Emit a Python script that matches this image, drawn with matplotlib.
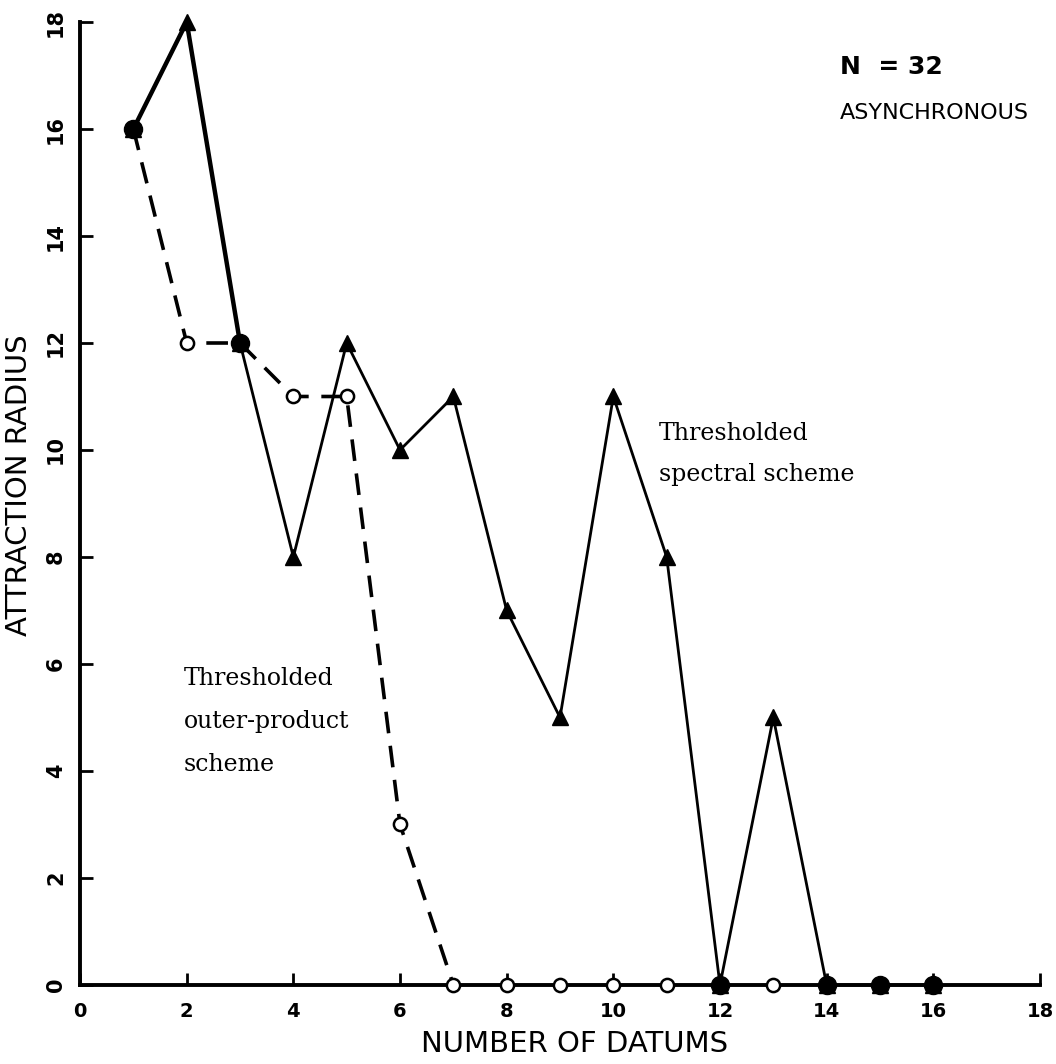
import matplotlib
matplotlib.use("Agg")
import matplotlib.pyplot as plt

# Number of stored datums
datums = [1, 2, 3, 4, 5, 6, 7, 8, 9, 10, 11, 12, 13, 14, 15, 16]
# Attraction radius, thresholded spectral scheme
spectral = [16, 18, 12, 8, 12, 10, 11, 7, 5, 11, 8, 0, 5, 0, 0, 0]
# Attraction radius, thresholded outer-product scheme
outer_product = [16, 12, 12, 11, 11, 3, 0, 0, 0, 0, 0, 0, 0, 0, 0, 0]

x_ticks = [0, 2, 4, 6, 8, 10, 12, 14, 16, 18]
y_ticks = [0, 2, 4, 6, 8, 10, 12, 14, 16, 18]

fig = plt.figure(figsize=(10.56, 10.64), dpi=100)
ax = fig.add_axes([0.0758, 0.0743, 0.909, 0.905])

# Outer-product scheme: dashed line with open circles
ax.plot(datums[:7], outer_product[:7], color="black", lw=2.6,
        dashes=(6, 3.5), zorder=2, clip_on=False)
ax.plot(datums, outer_product, linestyle="none", marker="o", ms=9.5,
        mfc="white", mec="black", mew=1.8, zorder=3, clip_on=False)

# Spectral scheme: solid line with filled triangles
ax.plot(datums[:3], spectral[:3], color="black", lw=3.2, zorder=4,
        clip_on=False)
ax.plot(datums[2:], spectral[2:], color="black", lw=2.0, zorder=4,
        clip_on=False)
ax.plot(datums, spectral, linestyle="none", marker="^", ms=11,
        color="black", zorder=5, clip_on=False)

# Points where both schemes coincide are drawn as filled dots
both_x = [x for x, s, o in zip(datums, spectral, outer_product) if s == o]
both_y = [s for s, o in zip(spectral, outer_product) if s == o]
ax.plot(both_x, both_y, linestyle="none", marker="o", ms=13,
        color="black", zorder=6, clip_on=False)

ax.set_xlim(0, 18)
ax.set_ylim(0, 18)
ax.set_xticks(x_ticks)
ax.set_yticks(y_ticks)
ax.set_xticklabels([str(t) for t in x_ticks], fontsize=14,
                   fontweight="bold", family="DejaVu Sans")
ax.set_yticklabels([str(t) for t in y_ticks], fontsize=15, rotation=90,
                   va="center", fontweight="bold", family="DejaVu Sans")
ax.tick_params(direction="in", length=9, width=2)
ax.tick_params(axis="x", pad=12)
ax.tick_params(axis="y", pad=10)

for side in ("top", "right"):
    ax.spines[side].set_visible(False)
for side in ("left", "bottom"):
    ax.spines[side].set_linewidth(2.8)

ax.set_xlabel("NUMBER OF DATUMS", fontsize=21)
ax.set_ylabel("ATTRACTION RADIUS", fontsize=21)
ax.xaxis.set_label_coords(0.515, -0.047)
ax.yaxis.set_label_coords(-0.049, 0.519)

ax.text(14.25, 17.15, "N  = 32", fontsize=18, fontweight="bold",
        va="center")
ax.text(14.25, 16.3, "ASYNCHRONOUS", fontsize=16, va="center")

serif = "DejaVu Serif"
ax.text(10.85, 10.3, "Thresholded", fontsize=17, family=serif,
        va="center")
ax.text(10.85, 9.55, "spectral scheme", fontsize=17, family=serif,
        va="center")

ax.text(1.95, 5.73, "Thresholded", fontsize=17, family=serif,
        va="center")
ax.text(1.95, 4.92, "outer-product", fontsize=17, family=serif,
        va="center")
ax.text(1.95, 4.12, "scheme", fontsize=17, family=serif,
        va="center")

fig.savefig("out.png", dpi=100)
